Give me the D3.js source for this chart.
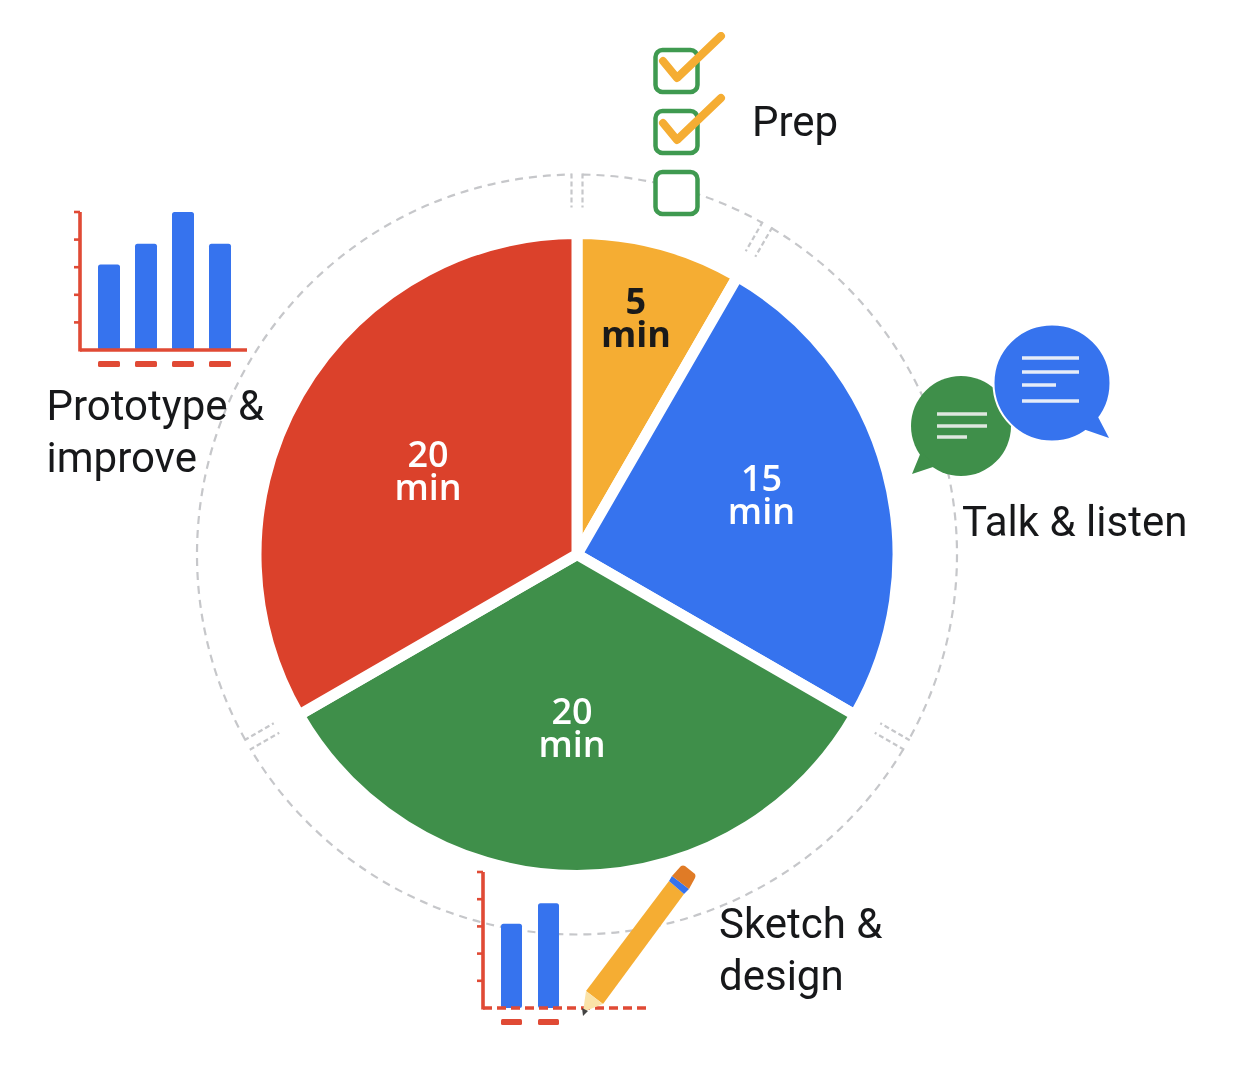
<!DOCTYPE html>
<html>
<head>
  <meta charset="utf-8">
  <title>Design sprint timing</title>
  <script src="https://cdn.jsdelivr.net/npm/d3@7"></script>
  <style>
    html, body { margin: 0; padding: 0; background: #fff; }
    svg { display: block; filter: blur(0.5px); }
    .label { font-family: Roboto, sans-serif; font-size: 42px; fill: #17181a; }
    .value { font-family: "Open Sans", sans-serif; font-size: 36px; text-anchor: middle; }
  </style>
</head>
<body>
  <svg id="chart" width="1242" height="1070"></svg>
  <script>
    var categories = ["Prep", "Talk & listen", "Sketch & design", "Prototype & improve"];
    var minutes = [5, 15, 20, 20];
    var sliceColors = ["#f5ad33", "#3673ee", "#3f8f4a", "#db412b"];
    var valueColors = ["#1a1a1a", "#ffffff", "#ffffff", "#ffffff"];
    var valueWeights = [700, 600, 600, 600];

    // little bar chart icons
    var prototypeBars = [3.1, 3.85, 5, 3.85];
    var sketchBars = [3.1, 3.85];
    var iconTicks = [1, 2, 3, 4, 5];

    var red = "#e04a35", blue = "#3673ee", green = "#3f9a50", yellow = "#f5ad33";

    var width = 1242, height = 1070;
    var cx = 577, cy = 554.5, radius = 315.5, ringRadius = 380, gap = 11;

    var svg = d3.select("#chart");

    var pie = d3.pie().sort(null).value(function(d) { return d; });
    var slices = pie(minutes);

    // white stroke makes the gaps between slices parallel
    var arc = d3.arc()
      .innerRadius(0)
      .outerRadius(radius + gap / 2);

    var chart = svg.append("g").attr("transform", "translate(" + cx + "," + cy + ")");

    // dashed ring, broken at each slice boundary
    var ringGap = 5.5 / ringRadius;
    function ringPath(d) {
      var p = d3.path();
      p.arc(0, 0, ringRadius, d.startAngle + ringGap - Math.PI / 2, d.endAngle - ringGap - Math.PI / 2);
      return p.toString();
    }
    var ring = chart.append("g")
      .attr("fill", "none")
      .attr("stroke", "#c6c7ca")
      .attr("stroke-width", 2.2);

    ring.selectAll("path")
      .data(slices)
      .enter().append("path")
        .attr("d", ringPath)
        .attr("stroke-dasharray", "8 6");

    // double tick at the start of every slice
    slices.forEach(function(d) {
      [-5.5, 5.5].forEach(function(off) {
        ring.append("line")
          .attr("transform", "rotate(" + (d.startAngle * 180 / Math.PI) + ")")
          .attr("x1", off).attr("x2", off)
          .attr("y1", -ringRadius - 1).attr("y2", -ringRadius + 33)
          .attr("stroke-dasharray", "5 3");
      });
    });

    chart.selectAll("path.slice")
      .data(slices)
      .enter().append("path")
        .attr("class", "slice")
        .attr("d", arc)
        .attr("fill", function(d, i) { return sliceColors[i]; })
        .attr("stroke", "#fff")
        .attr("stroke-width", gap)
        .attr("stroke-linejoin", "miter")
        .attr("stroke-miterlimit", 10);

    var labelRadius = [243, 191, 172, 172];
    var labelShift = [[-4, -2], [0, -10], [-5, 1], [0, 2]];
    var valueLabels = chart.selectAll("text.value")
      .data(slices)
      .enter().append("text")
        .attr("class", "value")
        .attr("fill", function(d, i) { return valueColors[i]; })
        .attr("font-weight", function(d, i) { return valueWeights[i]; })
        .attr("transform", function(d, i) {
          var mid = (d.startAngle + d.endAngle) / 2;
          var pt = d3.pointRadial(mid, labelRadius[i]);
          return "translate(" + (pt[0] + labelShift[i][0]) + "," + (pt[1] + labelShift[i][1]) + ")";
        });
    valueLabels.append("tspan").attr("x", 0).attr("dy", -4).text(function(d) { return d.value; });
    valueLabels.append("tspan").attr("x", 0).attr("dy", 33).text("min");

    // text labels
    function addLabel(lines, x, y) {
      var t = svg.append("text").attr("class", "label").attr("x", x).attr("y", y);
      lines.forEach(function(line, i) {
        t.append("tspan").attr("x", x).attr("dy", i ? 52 : 0).text(line);
      });
    }
    addLabel(["Prep"], 752, 136);
    addLabel(["Talk & listen"], 962, 536);
    addLabel(["Sketch &", "design"], 719, 938);
    addLabel(["Prototype &", "improve"], 46.5, 420);

    // bar chart icon, shared by Prototype and Sketch
    function barIcon(values, opts) {
      var g = svg.append("g");
      var y = d3.scaleLinear().domain([0, 5]).range([opts.bottom, opts.top]);
      var x = d3.scaleBand().domain(d3.range(values.length))
        .range([opts.barStart, opts.barStart + values.length * opts.step - (opts.step - opts.barWidth)])
        .paddingInner(1 - opts.barWidth / opts.step).paddingOuter(0);

      g.selectAll("rect.bar").data(values).enter().append("rect")
        .attr("x", function(d, i) { return x(i); })
        .attr("y", function(d) { return y(d); })
        .attr("width", x.bandwidth())
        .attr("height", function(d) { return opts.bottom - y(d); })
        .attr("rx", 2.5)
        .attr("fill", blue);

      g.selectAll("rect.dash").data(values).enter().append("rect")
        .attr("x", function(d, i) { return x(i); })
        .attr("y", opts.bottom + 11)
        .attr("width", x.bandwidth())
        .attr("height", 6)
        .attr("rx", 1.5)
        .attr("fill", red);

      g.append("line").attr("x1", opts.axisX).attr("x2", opts.axisX)
        .attr("y1", y(5)).attr("y2", opts.bottom + 1.5)
        .attr("stroke", red).attr("stroke-width", 3.6);
      g.selectAll("line.tick").data(iconTicks).enter().append("line")
        .attr("x1", opts.axisX - 6).attr("x2", opts.axisX)
        .attr("y1", function(d) { return y(d); })
        .attr("y2", function(d) { return y(d); })
        .attr("stroke", red).attr("stroke-width", 2.6);
      g.append("line").attr("x1", opts.axisX).attr("x2", opts.axisEnd)
        .attr("y1", opts.bottom).attr("y2", opts.bottom)
        .attr("stroke", red).attr("stroke-width", 3.6)
        .attr("stroke-dasharray", opts.dashed ? "9 5" : null);
    }

    barIcon(prototypeBars, { axisX: 80, axisEnd: 247, top: 212, bottom: 350, barStart: 98, step: 37, barWidth: 22 });
    barIcon(sketchBars, { axisX: 483, axisEnd: 650, top: 872, bottom: 1008, barStart: 501, step: 37, barWidth: 21, dashed: true });

    // pencil
    var pencil = svg.append("g");
    pencil.append("polygon").attr("points", "586,991 603,1004 684,894 669,881").attr("fill", yellow);
    pencil.append("polygon").attr("points", "586,991 603,1004 583,1012").attr("fill", "#fbe3a8");
    pencil.append("polygon").attr("points", "582,1008 588,1011 583,1016").attr("fill", "#444");
    pencil.append("polygon").attr("points", "669,881 672,876 689,889 684,894").attr("fill", blue);
    pencil.append("path").attr("d", "M672,876 L681,866 Q683,865 685,866 L695,874 Q696,876 695,878 L689,889 Z").attr("fill", "#e07b26");

    // speech bubbles
    var bubbles = svg.append("g");
    bubbles.append("circle").attr("cx", 961).attr("cy", 426).attr("r", 50).attr("fill", "#3f8f4a");
    bubbles.append("polygon").attr("points", "921,452 912,474 936,466").attr("fill", "#3f8f4a");
    [[937, 987, 414], [937, 987, 426], [937, 967, 437]].forEach(function(l) {
      bubbles.append("line").attr("x1", l[0]).attr("x2", l[1]).attr("y1", l[2]).attr("y2", l[2])
        .attr("stroke", "#dfe7df").attr("stroke-width", 3.5);
    });
    bubbles.append("circle").attr("cx", 1052).attr("cy", 383).attr("r", 58.5)
      .attr("fill", blue).attr("stroke", "#fff").attr("stroke-width", 2);
    bubbles.append("polygon").attr("points", "1097,415 1109,438 1083,429").attr("fill", blue);
    [[1022, 1079, 358], [1022, 1079, 372], [1022, 1056, 385], [1022, 1079, 401]].forEach(function(l) {
      bubbles.append("line").attr("x1", l[0]).attr("x2", l[1]).attr("y1", l[2]).attr("y2", l[2])
        .attr("stroke", "#e6ecf8").attr("stroke-width", 3.5);
    });

    // checklist
    var checks = svg.append("g");
    [0, 1, 2].forEach(function(i) {
      checks.append("rect")
        .attr("x", 655.5).attr("y", 50 + i * 61)
        .attr("width", 42).attr("height", 42).attr("rx", 7)
        .attr("fill", i == 2 ? "#fff" : "none")
        .attr("stroke", green).attr("stroke-width", 4.5);
    });
    [0, 1].forEach(function(i) {
      checks.append("polyline")
        .attr("points", "663," + (61 + i * 62) + " 677," + (78 + i * 62) + " 721," + (36 + i * 62))
        .attr("fill", "none")
        .attr("stroke", yellow).attr("stroke-width", 8)
        .attr("stroke-linecap", "round").attr("stroke-linejoin", "round");
    });
  </script>
</body>
</html>
